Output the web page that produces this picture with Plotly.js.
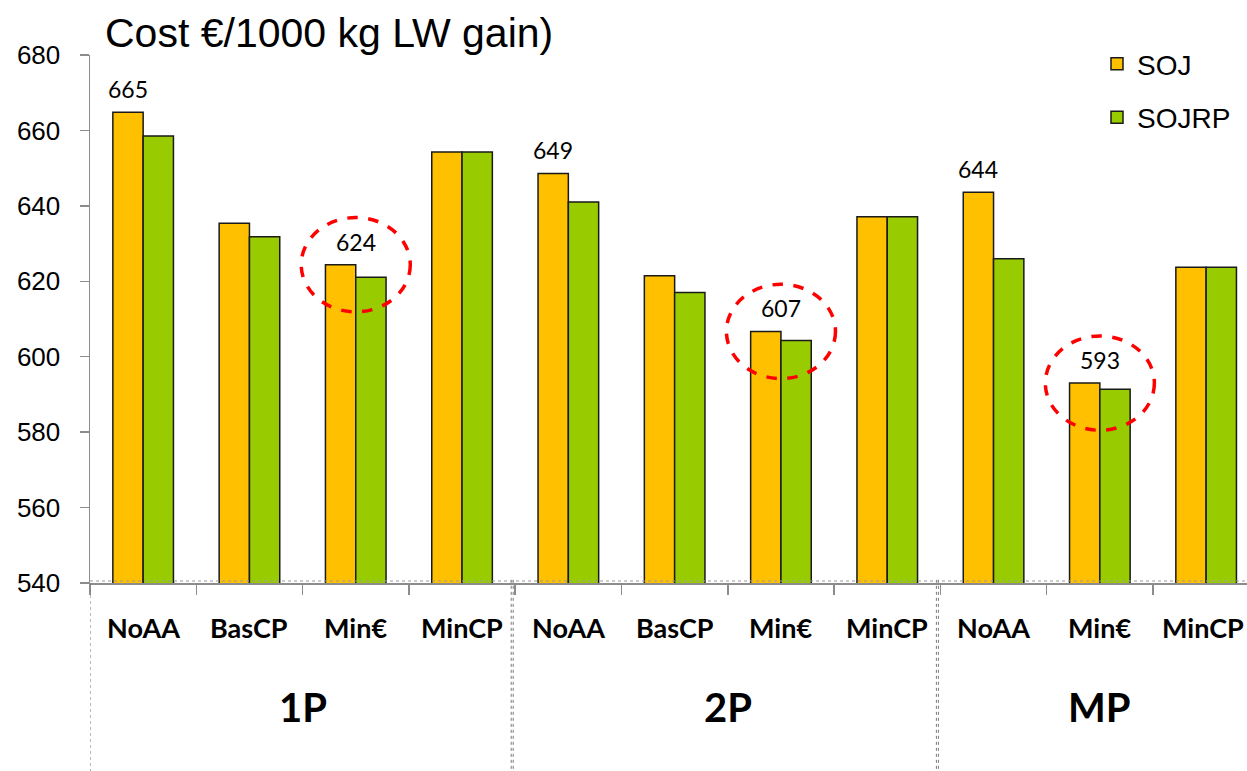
<!DOCTYPE html>
<html>
<head>
<meta charset="utf-8">
<script src="https://cdn.plot.ly/plotly-3.0.1.min.js"></script>
<style>
  html, body { margin: 0; padding: 0; background: #fff; }
  #chart { width: 1247px; height: 771px; }
</style>
</head>
<body>
<div id="chart"></div>
<script>
// ---- data ----
const categories = ['NoAA', 'BasCP', 'Min€', 'MinCP', 'NoAA', 'BasCP', 'Min€', 'MinCP', 'NoAA', 'Min€', 'MinCP'];
const groups = ['1P', '2P', 'MP'];
const groupSizes = [4, 4, 3];
const seriesNames = ['SOJ', 'SOJRP'];
const soj   = [664.8, 635.4, 624.4, 654.3, 648.6, 621.5, 606.7, 637.1, 643.6, 593.0, 623.7];
const sojrp = [658.5, 631.8, 621.1, 654.3, 641.0, 617.0, 604.3, 637.1, 626.0, 591.4, 623.7];
const labelledCategories = ['NoAA', 'Min€'];
const highlightedCategory = 'Min€';
const yTicks = [540, 560, 580, 600, 620, 640, 660, 680];
const titleText = 'Cost €/1000 kg LW gain)';

// ---- styling ----
const colors = ['#FFC000', '#99CC00'];
const axisGrey = '#8c8c8c';
const bargap = 0.43;
const barW = (1 - bargap) / 2;
const catFont = 'Lato, "Open Sans", sans-serif';
const arial = '"Liberation Sans", Arial, sans-serif';

const xs = categories.map((_, i) => i);

const traces = [soj, sojrp].map((vals, k) => ({
  type: 'bar',
  x: xs,
  y: vals,
  name: seriesNames[k],
  legendgroup: seriesNames[k],
  marker: { color: colors[k], line: { color: '#1a1a1a', width: 1.5 } },
  hoverinfo: 'skip'
}));

// category boundaries for ticks
const boundaries = [];
for (let i = -1; i < categories.length; i++) boundaries.push(i + 0.5);

const annotations = [];
// category labels
xs.forEach(i => {
  annotations.push({
    x: i, xref: 'x', y: -0.085, yref: 'paper', yanchor: 'middle',
    xshift: i === xs.length - 1 ? -3 : 0,
    text: categories[i], showarrow: false,
    font: { family: catFont, size: 27, weight: 700, color: '#000' }
  });
});
// group labels + separators
const shapes = [];
let start = 0;
groups.forEach((g, gi) => {
  const end = start + groupSizes[gi] - 1;
  annotations.push({
    x: (start + end) / 2, xref: 'x', y: -0.235, yref: 'paper', yanchor: 'middle',
    text: g, showarrow: false,
    font: { family: catFont, size: 40, weight: 700, color: '#000' }
  });
  const b = start - 0.5;
  const offs = gi === 0 ? [0] : [-4, -2];
  offs.forEach(o => shapes.push({
    type: 'line', xref: 'x', xsizemode: 'pixel', xanchor: b, x0: o, x1: o,
    yref: 'paper', y0: gi === 0 ? 0 : 0.006, y1: -0.36,
    line: { color: '#777', width: 1, dash: 'dot' }, layer: 'above'
  }));
  start = end + 1;
});
// value labels and highlight ellipses
xs.forEach(i => {
  if (!labelledCategories.includes(categories[i])) return;
  const hl = categories[i] === highlightedCategory;
  annotations.push({
    x: hl ? i : i - barW / 2, xref: 'x', y: soj[i], yref: 'y',
    yanchor: 'middle', yshift: 23,
    text: String(Math.round(soj[i])), showarrow: false,
    font: { family: catFont, size: 23, color: '#000' }
  });
  if (hl) {
    shapes.push({
      type: 'circle', xref: 'x', yref: 'y',
      x0: i - 0.513, x1: i + 0.513, y0: soj[i] - 12.5, y1: soj[i] + 12.5,
      line: { color: '#ff0000', width: 3.5, dash: 'dash' }, layer: 'above'
    });
  }
});
// dotted baseline just above the axis
shapes.push({
  type: 'line', xref: 'paper', x0: 0, x1: 1,
  yref: 'y', ysizemode: 'pixel', yanchor: yTicks[0], y0: 2, y1: 2,
  line: { color: '#999', width: 1.2, dash: 'dot' }, layer: 'above'
});

const plotLeft = 90, plotWidth = 1247 - 90, catPx = 106.3;

const layout = {
  width: 1247, height: 771,
  margin: { l: plotLeft, r: 0, t: 55, b: 188 },
  paper_bgcolor: '#fff', plot_bgcolor: '#fff',
  showlegend: true,
  barmode: 'group', bargap: bargap, bargroupgap: 0,
  title: {
    text: titleText, x: 105 / 1247, xanchor: 'left', xref: 'container',
    y: 0.958, yanchor: 'middle',
    font: { family: arial, size: 41, color: '#000' }
  },
  xaxis: {
    range: [-0.5, -0.5 + plotWidth / catPx],
    tickvals: boundaries, showticklabels: false,
    ticks: 'outside', ticklen: 10, tickwidth: 1.5, tickcolor: axisGrey,
    showline: true, linecolor: axisGrey, linewidth: 1.5,
    showgrid: false, zeroline: false, fixedrange: true
  },
  yaxis: {
    range: [yTicks[0], yTicks[yTicks.length - 1]],
    tickvals: yTicks, ticktext: yTicks.map(String),
    ticks: 'outside', ticklen: 9, tickwidth: 1.5, tickcolor: axisGrey,
    ticklabelstandoff: 14,
    showline: true, linecolor: axisGrey, linewidth: 1.5,
    showgrid: false, zeroline: false, fixedrange: true,
    tickfont: { family: arial, size: 26, color: '#000' }
  },
  legend: {
    x: (1097 - plotLeft) / plotWidth, xanchor: 'left',
    y: 1.03, yanchor: 'top',
    traceorder: 'grouped', tracegroupgap: 14,
    bgcolor: 'rgba(0,0,0,0)',
    font: { family: arial, size: 28, color: '#000' }
  },
  annotations: annotations,
  shapes: shapes
};

Plotly.newPlot('chart', traces, layout, { displayModeBar: false, staticPlot: true });
</script>
</body>
</html>
